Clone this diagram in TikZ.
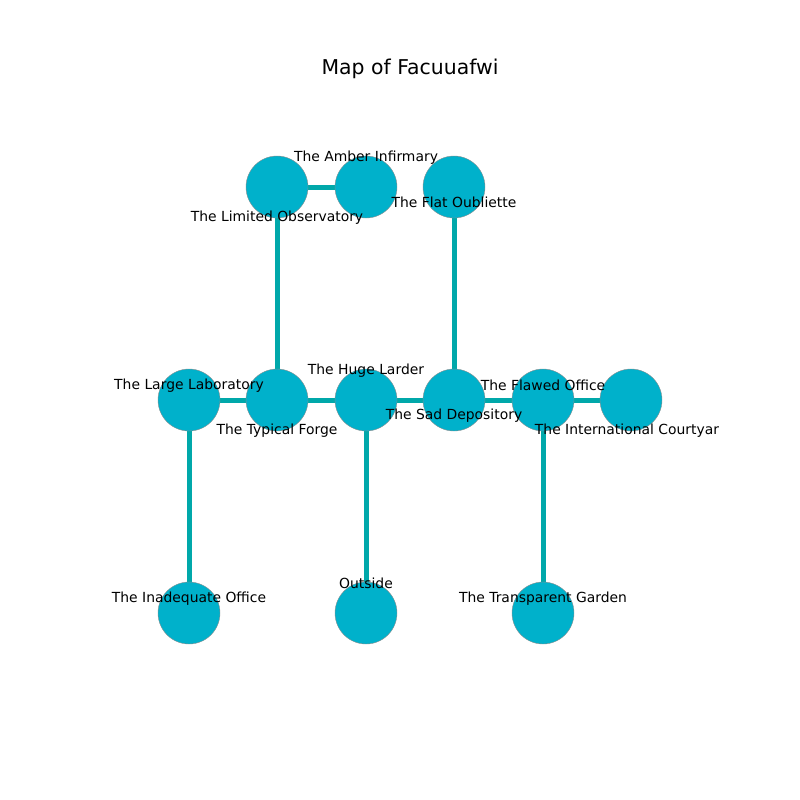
\documentclass[tikz,border=0pt]{standalone}
\usepackage{fontspec}
\setmainfont{DejaVu Sans}
\usetikzlibrary{backgrounds}
\definecolor{roomfill}{RGB}{0,177,203}
\definecolor{roomedge}{RGB}{0,168,170}

\begin{document}
\begin{tikzpicture}[x=1pt, y=-1pt,
  room/.style={shape=circle, draw=black!45, line width=0.4pt, fill=roomfill, minimum size=62pt, inner sep=0pt},
  path/.style={draw=roomedge, line width=5pt},
  tag/.style={font=\fontsize{13.9}{16}\selectfont, inner sep=0pt}]
\useasboundingbox (0,0) rectangle (800,800);
\node[font=\fontsize{20.4}{24}\selectfont] (title) at (410,68.5) {Map of Facuuafwi};
\node[room](0) at (277,187) {};
\node[room](1) at (366,187) {};
\node[room](2) at (454,187) {};
\node[room](3) at (189,400) {};
\node[room](4) at (277,400) {};
\node[room](5) at (366,400) {};
\node[room](6) at (454,400) {};
\node[room](7) at (543,400) {};
\node[room](8) at (631,400) {};
\node[room](9) at (189,613) {};
\node[room](10) at (366,613) {};
\node[room](11) at (543,613) {};
\begin{scope}[on background layer]
\draw[path] (0) -- (1);
\draw[path] (0) -- (4);
\draw[path] (2) -- (6);
\draw[path] (3) -- (4);
\draw[path] (4) -- (5);
\draw[path] (5) -- (6);
\draw[path] (6) -- (7);
\draw[path] (7) -- (8);
\draw[path] (3) -- (9);
\draw[path] (5) -- (10);
\draw[path] (7) -- (11);
\end{scope}
% room names on top
\node[tag] (t0) at ([yshift=-31pt]0.center) {The Limited Observatory};
\node[tag] (t1) at ([yshift=29pt]1.center) {The Amber Infirmary};
\node[tag] (t2) at ([yshift=-15pt]2.center) {The Flat Oubliette};
\node[tag] (t3) at ([yshift=14pt]3.center) {The Large Laboratory};
\node[tag] (t4) at ([yshift=-31pt]4.center) {The Typical Forge};
\node[tag] (t5) at ([yshift=29pt]5.center) {The Huge Larder};
\node[tag] (t6) at ([yshift=-16pt]6.center) {The Sad Depository};
\node[tag] (t7) at ([yshift=15pt]7.center) {The Flawed Office};
\node[tag] (t8) at ([xshift=-4pt, yshift=-31pt]8.center) {The International Courtyar};
\node[tag] (t9) at ([yshift=14pt]9.center) {The Inadequate Office};
\node[tag] (t10) at ([yshift=30pt]10.center) {Outside};
\node[tag] (t11) at ([yshift=14pt]11.center) {The Transparent Garden};
\end{tikzpicture}
\end{document}
